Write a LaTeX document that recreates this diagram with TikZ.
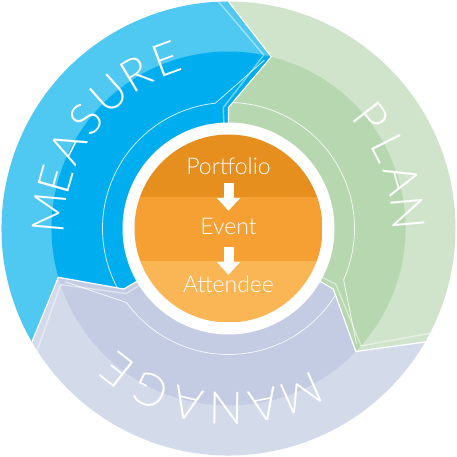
\documentclass[tikz,border=0pt]{standalone}
\usepackage{fontspec}
\setmainfont{Lato-Light}[Extension=.ttf]
\usetikzlibrary{arrows.meta}
\definecolor{measureLight}{RGB}{79,200,242}
\definecolor{measureDark}{RGB}{0,174,239}
\definecolor{planLight}{RGB}{208,228,203}
\definecolor{planDark}{RGB}{183,215,176}
\definecolor{manageLight}{RGB}{211,218,234}
\definecolor{manageDark}{RGB}{195,204,226}
\definecolor{portfolioOrange}{RGB}{230,142,30}
\definecolor{eventOrange}{RGB}{246,160,52}
\definecolor{attendeeOrange}{RGB}{250,181,85}
\tikzstyle{seam} = [draw=white, line width=1.2pt, line join=miter]
\tikzstyle{bevel} = [draw=white, line width=1.4pt, opacity=0.45, line join=miter]
\tikzstyle{rim} = [draw=white, line width=0.8pt, opacity=0.8]
\tikzstyle{phase} = [text=white, inner sep=0pt, font=\fontsize{45}{45}\selectfont]
\tikzstyle{level} = [text=white, inner sep=0pt, anchor=base, text height=16pt, text depth=0pt, font=\fontsize{23}{23}\selectfont]
\tikzstyle{flow} = [draw=white, line width=10pt, -{Triangle[width=23pt,length=13pt]}]
\newcommand{\Rout}{227}
\newcommand{\Rtip}{177}
\newcommand{\Rseam}{121}
\newcommand{\Rin}{100}
% whole chevron band, tail angle #1, head angle #2
\newcommand{\chevron}[2]{({#1}:\Rout) arc[start angle=#1, end angle=#2, radius=\Rout] -- ({#2-14}:\Rtip) -- ({#2}:\Rseam) -- ({#2}:\Rin) arc[start angle=#2, end angle=#1, radius=\Rin] -- ({#1}:\Rseam) -- ({#1-14}:\Rtip) -- cycle}
% inner (darker) part of the band
\newcommand{\chevroncore}[2]{({#1}:\Rin) -- ({#1}:\Rseam) -- ({#1-14}:\Rtip) arc[start angle=#1-14, end angle=#2-14, radius=\Rtip] -- ({#2}:\Rseam) -- ({#2}:\Rin) arc[start angle=#2, end angle=#1, radius=\Rin] -- cycle}
\newcommand{\phaselabel}[4]{%
  \foreach \ch [count=\i from 0] in {#4} {
    \pgfmathsetmacro{\lblang}{#2-\i*#3}
    \pgfmathsetmacro{\lblrot}{\lblang-90}
    \node[phase, rotate=\lblrot] (#1-\i) at (\lblang:180) {\ch};
  }}

\begin{document}
\begin{tikzpicture}[x=1pt, y=1pt]
\useasboundingbox (-228.5,-228.5) rectangle (228.5,228.5);

% the three phases
\fill[measureLight] \chevron{210}{90};
\fill[measureDark] \chevroncore{210}{90};
\fill[planLight] \chevron{90}{-30};
\fill[planDark] \chevroncore{90}{-30};
\fill[manageLight] \chevron{-30}{-150};
\fill[manageDark] \chevroncore{-30}{-150};

\foreach \b in {90,-30,210} {
  \draw[seam] ({\b}:\Rout) -- ({\b-14}:\Rtip) -- ({\b}:\Rseam) -- ({\b}:\Rin);
  \draw[bevel] ({\b+2.5}:\Rout) -- ({\b-11.5}:\Rtip) -- ({\b+2.5}:\Rseam) -- ({\b+2.5}:\Rin);
}

\foreach \t in {210,90,-30}
  \draw[rim] ({\t-2}:126) arc[start angle=\t-2, end angle=\t-114, radius=126] -- ({\t-132}:172);

% centre disc
\fill[white] (0,0) circle[radius=106];
\begin{scope}
\clip (0,0) circle[radius=94];
\fill[portfolioOrange] (-94,31.5) rectangle (94,94);
\fill[eventOrange] (-94,-32.5) rectangle (94,31.5);
\fill[attendeeOrange] (-94,-94) rectangle (94,-32.5);
\end{scope}

\node[level] (port) at (0,53.5) {Portfolio};
\node[level] (event) at (0,-6.5) {Event};
\node[level] (att) at (0,-64.5) {Attendee};
\draw[flow, shorten <=8pt, shorten >=8pt] (port.south) -- (event.north);
\draw[flow, shorten <=12pt, shorten >=2pt] (event.south) -- (att.north);

\phaselabel{measure}{174.9}{10.8}{M,E,A,S,U,R,E}
\phaselabel{plan}{37.7}{10.9}{P,L,A,N}
\phaselabel{manage}{-66}{12.4}{M,A,N,A,G,E}
\end{tikzpicture}
\end{document}
